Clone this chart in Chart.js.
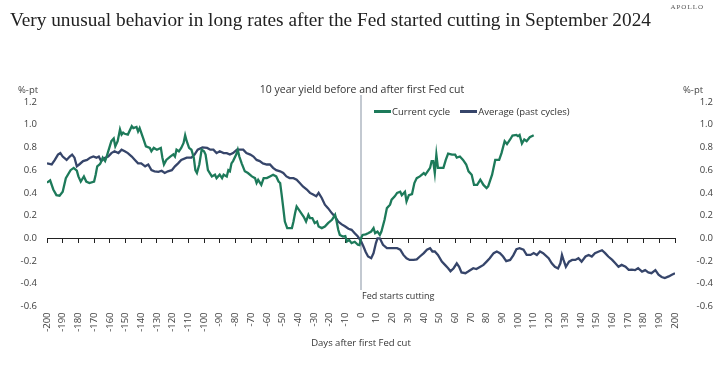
<!DOCTYPE html>
<html>
<head>
<meta charset="utf-8">
<script src="https://cdn.jsdelivr.net/npm/chart.js@4.4.1/dist/chart.umd.min.js"></script>
<style>
  body { margin: 0; background: #fff; }
  #wrap { position: relative; width: 713px; height: 376px; overflow: hidden; font-family: "Open Sans", sans-serif; color: #333; }
  #chartBox { position: absolute; left: 0; top: 0; width: 713px; height: 376px; }
  .abs { position: absolute; white-space: nowrap; }
  #title { left: 10px; top: 9px; font-family: "Liberation Serif", serif; font-size: 19.3px; color: #222; }
  #brand { right: 9px; top: 3px; font-family: "Liberation Serif", serif; font-size: 7px; letter-spacing: 1px; color: #555; }
  #sub { left: 362px; top: 82px; transform: translateX(-50%); font-size: 10.5px; color: #333; }
  .unit { top: 83px; font-size: 9.5px; color: #444; }
  #legend { left: 374px; top: 105px; font-size: 9.5px; color: #333; display: flex; align-items: center; }
  .key { display: inline-block; width: 17px; height: 2.5px; margin-right: 1px; vertical-align: middle; }
</style>
</head>
<body>
<div id="wrap">
  <div id="chartBox"><canvas id="chart"></canvas></div>
  <div id="title" class="abs">Very unusual behavior in long rates after the Fed started cutting in September 2024</div>
  <div id="brand" class="abs">APOLLO</div>
  <div id="sub" class="abs">10 year yield before and after first Fed cut</div>
  <div class="abs unit" style="left:18px">%-pt</div>
  <div class="abs unit" style="left:683px">%-pt</div>
  <div id="legend" class="abs">
    <span class="key" style="background:#1d7a5a"></span><span>Current cycle</span>
    <span class="key" style="background:#36456a;margin-left:10px"></span><span>Average (past cycles)</span>
  </div>
</div>
<script>
// days relative to first Fed cut (current cycle, Sep 2024)
const curDays = [-200, -198, -196, -194, -192, -190, -188, -185, -183, -181, -180, -178.5, -176.5, -175, -173, -170, -169, -168, -166.5, -166,
  -164.5, -163, -162, -161, -159, -157.5, -156.5, -155, -153.5, -152.5, -151.5, -150.5, -148.5, -146, -145, -143, -142, -141, -138.5, -137,
  -134.5, -133.5, -132, -130, -127.5, -126.5, -125.5, -124, -121.5, -119.5, -118.5, -117.5, -116, -114.5, -113, -112, -111, -109.5, -108, -106.5,
  -105.5, -104.5, -103, -101.5, -100, -99, -97.5, -95, -93, -92, -90, -88.5, -87.5, -85.5, -84.5, -83.5, -82.5, -81.5, -79.5, -78.5,
  -77.5, -76, -74, -72, -69.5, -67.5, -66.5, -65.5, -63.5, -62, -60, -58, -56, -54, -52.5, -51.5, -50.5, -49.5, -48.5, -47,
  -44, -43, -42, -41, -39.5, -38, -36.5, -35, -33.5, -32.5, -31, -29.5, -28, -27, -25, -23, -21, -18.5, -16.5, -15.5,
  -14.5, -13.5, -11.5, -10, -9, -7.5, -6, -4, -2, -1, 0, 1, 3, 4.5, 6.5, 8, 9, 10.5, 12, 13,
  15, 16.5, 18.5, 19.5, 21.5, 23, 25, 26, 28, 29, 30.5, 32.5, 34, 35.5, 37.5, 40, 41, 43, 44, 45,
  46, 47, 48, 49, 50.5, 52.5, 54, 55.5, 58, 60, 61, 63, 65, 67, 68.5, 70.5, 72, 74, 76, 78,
  80, 81, 83.5, 85.5, 88, 89.5, 91.5, 93, 95, 96.5, 99, 100, 101, 102.5, 104, 105.5, 107.5, 110];
const curValues = [0.49, 0.51, 0.43, 0.38, 0.375, 0.41, 0.53, 0.60, 0.62, 0.595, 0.545, 0.50, 0.545, 0.50, 0.487, 0.50, 0.56, 0.634, 0.65, 0.66,
  0.71, 0.68, 0.72, 0.766, 0.855, 0.878, 0.81, 0.855, 0.958, 0.913, 0.93, 0.92, 0.913, 0.987, 0.97, 0.98, 0.94, 0.97, 0.87, 0.81,
  0.796, 0.766, 0.796, 0.78, 0.796, 0.71, 0.65, 0.69, 0.72, 0.74, 0.72, 0.78, 0.766, 0.796, 0.84, 0.907, 0.855, 0.796, 0.78, 0.71,
  0.60, 0.575, 0.65, 0.78, 0.766, 0.737, 0.60, 0.545, 0.56, 0.53, 0.56, 0.53, 0.56, 0.545, 0.60, 0.59, 0.66, 0.68, 0.737, 0.78,
  0.72, 0.66, 0.59, 0.575, 0.545, 0.53, 0.487, 0.515, 0.47, 0.53, 0.53, 0.545, 0.56, 0.545, 0.50, 0.487, 0.38, 0.266, 0.148, 0.09,
  0.09, 0.148, 0.22, 0.28, 0.25, 0.22, 0.19, 0.148, 0.207, 0.178, 0.178, 0.134, 0.148, 0.104, 0.09, 0.104, 0.134, 0.163, 0.207, 0.148,
  0.075, 0.03, 0.016, 0.02, -0.028, -0.015, -0.042, -0.03, -0.057, -0.06, 0.0, 0.03, 0.035, 0.045, 0.06, 0.09, 0.045, 0.06, 0.03, 0.06,
  0.163, 0.266, 0.296, 0.34, 0.37, 0.40, 0.41, 0.38, 0.41, 0.325, 0.38, 0.39, 0.487, 0.53, 0.545, 0.575, 0.56, 0.60, 0.62, 0.68,
  0.68, 0.575, 0.737, 0.62, 0.62, 0.62, 0.69, 0.746, 0.737, 0.737, 0.71, 0.72, 0.69, 0.65, 0.59, 0.56, 0.47, 0.47, 0.516, 0.47,
  0.443, 0.457, 0.56, 0.69, 0.69, 0.75, 0.855, 0.83, 0.87, 0.905, 0.91, 0.90, 0.91, 0.834, 0.87, 0.855, 0.89, 0.907];

// average of past easing cycles
const avgDays = [-200, -197, -195, -193, -191.5, -190, -187.5, -185.5, -184, -182.5, -181, -179.5, -177, -174.5, -172.5, -170.5, -168.5, -167, -165.5, -163,
  -161, -159, -157, -154.5, -152.5, -150.5, -148.5, -146, -144, -142, -140, -137.5, -135.5, -133.5, -131.5, -129, -127, -125, -123, -120.5,
  -118.5, -116.5, -114.5, -111, -108, -106, -104, -101, -98, -96, -94, -92, -90, -87.5, -85.5, -83.5, -81.5, -79, -77, -75,
  -73, -70.5, -68.5, -66.5, -64.5, -62.5, -60, -58, -56, -54, -51.5, -49.5, -47.5, -45.5, -43, -41, -39, -37, -34.5, -32.5,
  -30.5, -28.5, -27, -25, -23, -21, -18.5, -16.5, -14.5, -12.5, -10, -8, -6, -4, -2, 0, 1.5, 3, 4.5, 6.5,
  8, 9.5, 10.5, 12, 14, 16.5, 19.5, 23, 25, 27, 29, 31, 33.5, 35.5, 37.5, 40, 42, 44, 45.5, 47,
  49, 51.5, 53.5, 55.5, 57, 59, 61, 62.5, 64, 66.5, 68.5, 71.5, 73.5, 76, 78, 80, 82, 84.5, 86.5, 88.5,
  90.5, 92.5, 95, 97, 99, 101, 103.5, 105.5, 108, 110, 112, 114, 116, 119.5, 121.5, 123.5, 125.5, 127, 128, 129,
  130.5, 132.5, 134.5, 136.5, 138.5, 140.5, 143, 145, 147, 149, 151.5, 153.5, 155.5, 157.5, 160, 162, 164, 166, 168.5, 170.5,
  172.5, 174.5, 176.5, 179, 181, 183, 185, 187.5, 189.5, 191.5, 193.5, 196, 198, 200];
const avgValues = [0.66, 0.65, 0.69, 0.737, 0.75, 0.72, 0.69, 0.72, 0.737, 0.71, 0.634, 0.65, 0.68, 0.69, 0.71, 0.72, 0.71, 0.72, 0.68, 0.71,
  0.72, 0.75, 0.766, 0.75, 0.78, 0.766, 0.75, 0.72, 0.69, 0.66, 0.66, 0.634, 0.65, 0.60, 0.59, 0.585, 0.595, 0.575, 0.59, 0.60,
  0.634, 0.66, 0.69, 0.71, 0.71, 0.737, 0.78, 0.80, 0.796, 0.78, 0.78, 0.75, 0.766, 0.75, 0.75, 0.737, 0.75, 0.78, 0.78, 0.78,
  0.75, 0.737, 0.72, 0.69, 0.68, 0.66, 0.65, 0.65, 0.62, 0.60, 0.59, 0.575, 0.545, 0.53, 0.53, 0.516, 0.487, 0.457, 0.43, 0.40,
  0.385, 0.37, 0.40, 0.355, 0.296, 0.266, 0.22, 0.19, 0.148, 0.125, 0.104, 0.084, 0.075, 0.045, 0.016, -0.025, -0.07, -0.12, -0.16, -0.175,
  -0.13, -0.042, 0.0, 0.0, -0.057, -0.087, -0.087, -0.087, -0.10, -0.146, -0.175, -0.19, -0.19, -0.185, -0.16, -0.13, -0.10, -0.087, -0.116, -0.116,
  -0.146, -0.205, -0.234, -0.263, -0.29, -0.263, -0.22, -0.25, -0.30, -0.307, -0.29, -0.263, -0.27, -0.25, -0.234, -0.205, -0.175, -0.13, -0.116, -0.13,
  -0.16, -0.20, -0.19, -0.15, -0.095, -0.087, -0.10, -0.146, -0.146, -0.13, -0.146, -0.116, -0.13, -0.175, -0.22, -0.25, -0.265, -0.22, -0.146, -0.19,
  -0.25, -0.205, -0.19, -0.19, -0.175, -0.205, -0.16, -0.146, -0.16, -0.13, -0.116, -0.105, -0.13, -0.16, -0.19, -0.22, -0.25, -0.234, -0.25, -0.278,
  -0.275, -0.28, -0.263, -0.293, -0.28, -0.30, -0.307, -0.28, -0.32, -0.34, -0.35, -0.335, -0.32, -0.307];

const yTicks = [-0.6, -0.4, -0.2, 0.0, 0.2, 0.4, 0.6, 0.8, 1.0, 1.2];

const greenColor = '#1d7a5a';
const navyColor = '#36456a';
const tickFont = { family: 'Open Sans', size: 9.5 };

// vertical marker at day 0 with its label
const cutLine = {
  id: 'cutLine',
  beforeDatasetsDraw(chart) {
    const { ctx, chartArea, scales } = chart;
    const px = scales.x.getPixelForValue(0);
    ctx.save();
    ctx.strokeStyle = '#c3c9d1';
    ctx.lineWidth = 2;
    ctx.beginPath();
    ctx.moveTo(px, chartArea.top - 7);
    ctx.lineTo(px, scales.y.getPixelForValue(-0.455));
    ctx.stroke();
    ctx.fillStyle = '#333';
    ctx.font = '9px "Open Sans"';
    ctx.textBaseline = 'middle';
    ctx.fillText('Fed starts cutting', px + 1, scales.y.getPixelForValue(-0.515));
    ctx.restore();
  }
};

function fmt(v) {
  return Math.abs(v) < 1e-9 ? '0.0' : Number(v).toFixed(1);
}

const yScale = (pos) => ({
  position: pos,
  min: -0.6,
  max: 1.2,
  afterBuildTicks: (s) => { s.ticks = yTicks.map(v => ({ value: v })); },
  afterFit: (s) => { s.width = pos === 'left' ? 47 : 38; },
  grid: { display: false, drawTicks: false },
  border: { display: false },
  ticks: {
    color: '#404040',
    font: tickFont,
    padding: pos === 'left' ? 10 : 6,
    crossAlign: pos === 'left' ? 'near' : 'far',
    callback: fmt
  }
});

new Chart(document.getElementById('chart'), {
  type: 'line',
  data: {
    datasets: [
      {
        label: 'Current cycle',
        data: curDays.map((d, i) => ({ x: d, y: curValues[i] })),
        borderColor: greenColor,
        borderWidth: 2.3,
        pointRadius: 0,
        tension: 0
      },
      {
        label: 'Average (past cycles)',
        data: avgDays.map((d, i) => ({ x: d, y: avgValues[i] })),
        borderColor: navyColor,
        borderWidth: 2.3,
        pointRadius: 0,
        tension: 0
      }
    ]
  },
  options: {
    responsive: true,
    maintainAspectRatio: false,
    animation: false,
    layout: { padding: { top: 102, left: 0, right: 0, bottom: 0 } },
    plugins: {
      legend: { display: false },
      tooltip: { enabled: false }
    },
    scales: {
      x: {
        type: 'linear',
        position: 'bottom',
        min: -200,
        max: 200,
        afterFit: (s) => { s.height = 69.5; },
        grid: { display: false, drawTicks: false },
        border: { display: false },
        ticks: {
          stepSize: 10,
          autoSkip: false,
          minRotation: 90,
          maxRotation: 90,
          padding: 6,
          color: '#404040',
          font: tickFont
        },
        title: {
          display: true,
          text: 'Days after first Fed cut',
          color: '#333',
          font: { family: 'Open Sans', size: 9.5 },
          padding: { top: 0, bottom: 27 }
        }
      },
      xZero: {
        type: 'linear',
        position: { y: 0 },
        min: -200,
        max: 200,
        grid: { drawOnChartArea: false, drawTicks: true, tickLength: 4, color: '#222', lineWidth: 1 },
        border: { display: true, color: '#222', width: 1 },
        ticks: { stepSize: 10, autoSkip: false, display: false }
      },
      y: yScale('left'),
      y2: yScale('right')
    }
  },
  plugins: [cutLine]
});
</script>
</body>
</html>
